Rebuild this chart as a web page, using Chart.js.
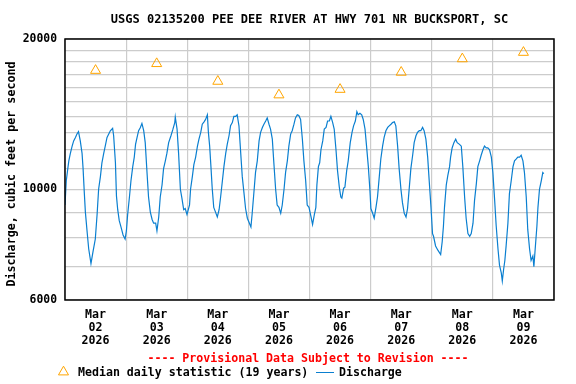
<!DOCTYPE html>
<html>
<head>
<meta charset="utf-8">
<script src="https://cdn.jsdelivr.net/npm/chart.js@4"></script>
<style>
  html, body { margin: 0; padding: 0; background: #fff; }
  canvas { display: block; }
</style>
</head>
<body>
<canvas id="flow" width="576" height="384"></canvas>
<script>
// hours since Mar 02 2026 00:00, discharge in ft3/s
const hours = [
  0.0, 0.5, 1.1, 1.5, 2.1, 2.8, 3.4, 4.1, 4.7, 5.3, 6.0, 6.7, 7.1, 7.6, 8.0, 8.7, 9.3, 10.2, 11.0, 11.9,
  12.6, 13.2, 13.9, 14.5, 15.2, 15.8, 16.5, 17.8, 18.7, 19.1, 19.8, 20.2, 20.7, 21.3, 22.0, 22.8, 23.6,
  24.1, 24.6, 25.3, 25.9, 26.6, 27.2, 27.7, 28.3, 28.9, 29.6, 30.2, 30.9, 31.5, 32.2, 32.8, 33.5, 34.2,
  34.8, 35.6, 36.1, 36.8, 37.4, 38.1, 38.7, 39.4, 40.0, 40.7, 41.6, 42.3, 43.1, 43.3, 44.0, 44.6, 45.3,
  45.9, 46.6, 47.2, 47.9, 48.9, 49.3, 50.0, 50.6, 51.3, 52.0, 52.6, 53.3, 53.9, 54.6, 55.2, 55.9, 56.3,
  56.8, 57.3, 57.8, 58.4, 59.1, 59.8, 60.5, 61.1, 61.8, 62.4, 63.1, 63.7, 64.4, 65.0, 65.7, 66.3, 67.0,
  67.6, 68.3, 69.0, 69.6, 70.3, 70.9, 71.6, 72.2, 73.0, 73.5, 74.2, 74.8, 75.5, 76.2, 76.8, 77.5, 78.1,
  78.8, 79.4, 80.1, 80.7, 81.4, 82.0, 82.7, 83.3, 84.0, 84.7, 85.3, 86.0, 86.6, 87.3, 87.9, 88.6, 89.2,
  89.9, 90.5, 91.2, 91.8, 92.5, 93.2, 93.8, 94.5, 95.1, 95.8, 96.6, 97.2, 97.9, 98.5, 98.9, 99.5, 100.0,
  100.5, 101.2, 101.8, 102.5, 103.1, 103.8, 104.4, 105.1, 105.7, 106.4, 107.0, 107.7, 108.3, 108.7,
  109.4, 109.9, 110.6, 111.2, 112.0, 112.7, 113.3, 114.0, 114.6, 115.1, 115.8, 116.5, 117.1, 117.8,
  118.4, 119.1, 119.7, 120.1, 120.8, 121.4, 122.1, 122.7, 123.4, 124.0, 124.7, 125.3, 126.0, 126.7,
  127.3, 128.0, 128.6, 129.3, 129.9, 130.6, 131.2, 131.9, 132.5, 133.2, 133.9, 134.5, 135.2, 135.8,
  136.5, 137.1, 137.8, 138.4, 139.1, 139.7, 140.4, 141.0, 141.7, 142.4, 143.0, 143.7, 144.3, 144.7,
  145.5, 146.4, 147.5, 148.1, 148.6, 149.0, 149.7, 150.3, 151.0, 151.4, 152.0, 152.7, 153.4, 154.0,
  154.9, 155.6, 156.2, 156.9, 157.5, 158.2, 158.9, 159.5, 160.2, 160.8, 161.5, 162.1, 162.8, 163.4,
  164.1, 164.7, 165.4, 166.0, 166.7, 167.4, 168.0, 168.7, 169.3, 170.0, 170.6, 171.3, 171.7, 172.2,
  172.7, 173.2, 173.9, 174.5, 175.2, 175.9, 176.5, 177.2, 177.8, 178.5, 179.1, 179.8, 180.4, 181.1,
  181.7, 182.4, 183.0, 183.7, 184.1, 184.7, 185.3, 185.7, 186.3, 187.0, 187.6, 188.0
];
const discharge = [
  9300, 10400, 11000, 11400, 11800, 12200, 12500, 12700, 12900, 13050, 12500, 11800, 11000, 9800, 9000, 8200, 7600, 7100, 7500, 7950,
  8900, 10000, 10600, 11300, 11800, 12200, 12700, 13100, 13250, 12800, 11300, 9700, 9100, 8650, 8400, 8100, 7950,
  8250, 8900, 9650, 10400, 11100, 11600, 12300, 12700, 13100, 13300, 13550, 13100, 12400, 10800, 9650, 9000, 8700,
  8550, 8550, 8250, 8800, 9650, 10200, 11000, 11400, 11800, 12400, 12800, 13150, 13600, 13950, 13200, 11800, 10000,
  9600, 9100, 9150, 8900, 9300, 10000, 10600, 11200, 11600, 12200, 12600, 13000, 13500, 13650, 13800, 14100, 13000,
  12200, 11100, 10050, 9200, 9000, 8800, 9100, 9650, 10400, 11100, 11800, 12300, 12800, 13400, 13600, 14000, 14000,
  14100, 13400, 11800, 10600, 9800, 9150, 8750, 8600, 8400, 8950, 9900, 10800, 11400, 12500, 13000, 13300, 13500,
  13700, 13900, 13500, 13200, 12600, 11300, 10000, 9300, 9200, 8950, 9300, 10000, 10800, 11400, 12200, 12900, 13100,
  13500, 13900, 14100, 14050, 13800, 12600, 11400, 10400, 9300, 9200, 8800, 8500, 8900, 9200, 10200, 11100, 11300,
  12000, 12500, 13200, 13300, 13700, 13700, 14000, 13600, 13200, 12000, 10900, 10100, 9650, 9600,
  10050, 10100, 10900, 11400, 12400, 13000, 13400, 13700, 14300, 14100, 14200, 14100, 13800, 13200,
  12200, 11100, 10000, 9150, 8950, 8750, 9200, 9650, 10600, 11500, 12200, 12700, 13100, 13300,
  13400, 13500, 13600, 13650, 13400, 12200, 11000, 10000, 9400, 8950, 8800, 9150, 10100, 11000,
  11700, 12400, 12800, 13000, 13100, 13100, 13300, 13100, 12600, 11600, 10400, 9200, 8150, 8050,
  7700, 7550, 7400, 7850, 8450, 9200, 10200, 10650, 11100, 11600, 12100, 12400, 12600, 12400,
  12300, 12200, 11100, 9650, 8750, 8150, 8050, 8150, 8550, 9500, 10250, 11100, 11400, 11700,
  12000, 12200, 12100, 12100, 12000, 11600, 10800, 9500, 8450, 7600, 7050, 6800, 6550, 6900,
  7200, 7700, 8550, 9800, 10400, 11100, 11400, 11500, 11600, 11600, 11700, 11400, 10800, 9650,
  8300, 7600, 7200, 7350, 7000, 7700, 8450, 9200, 10000, 10400, 10800, 10750
];

// median daily statistic, plotted at noon of each day
const medianHours = [12, 36, 60, 84, 108, 132, 156, 180];
const medianValues = [17300, 17850, 16450, 15450, 15850, 17150, 18250, 18800];

const month = 'Mar';
const year = '2026';
const dayLabels = ['02', '03', '04', '05', '06', '07', '08', '09'];
const xTicks = [0, 12, 24, 36, 48, 60, 72, 84, 96, 108, 120, 132, 144, 156, 168, 180, 192];
const yTicks = [6000, 7000, 8000, 9000, 10000, 11000, 12000, 13000, 14000, 15000, 16000, 17000, 18000, 19000, 20000];
const yLabels = [6000, 10000, 20000];

const MONO = '"DejaVu Sans Mono", "Liberation Mono", monospace';
const GRID = '#cccccc';
const BLUE = '#0a7fd0';
const ORANGE = '#ffa500';

const decor = {
  id: 'decor',
  afterDraw(chart) {
    const { ctx, chartArea: a } = chart;
    ctx.save();
    // plot frame
    ctx.strokeStyle = '#000';
    ctx.lineWidth = 1.5;
    ctx.strokeRect(a.left, a.top, a.right - a.left, a.bottom - a.top);

    ctx.fillStyle = '#000';
    ctx.textBaseline = 'middle';
    ctx.textAlign = 'center';
    ctx.font = 'bold 12px ' + MONO;
    ctx.fillText('USGS 02135200 PEE DEE RIVER AT HWY 701 NR BUCKSPORT, SC', (a.left + a.right) / 2, 20);

    // y axis title
    ctx.save();
    ctx.translate(12, 174);
    ctx.rotate(-Math.PI / 2);
    ctx.font = 'bold 11.7px ' + MONO;
    ctx.fillText('Discharge, cubic feet per second', 0, 0);
    ctx.restore();

    ctx.fillStyle = '#ff0000';
    ctx.font = 'bold 11.6px ' + MONO;
    ctx.fillText('---- Provisional Data Subject to Revision ----', 308, 359);

    // legend
    const ly = 372;
    ctx.strokeStyle = ORANGE;
    ctx.lineWidth = 1;
    const r = 5.8;
    ctx.beginPath();
    ctx.moveTo(63.5, ly - r);
    ctx.lineTo(63.5 + r * Math.sin(2 * Math.PI / 3), ly + r / 2);
    ctx.lineTo(63.5 - r * Math.sin(2 * Math.PI / 3), ly + r / 2);
    ctx.closePath();
    ctx.stroke();

    ctx.fillStyle = '#000';
    ctx.textAlign = 'left';
    ctx.fillText('Median daily statistic (19 years)', 78, ly + 1);
    ctx.strokeStyle = BLUE;
    ctx.beginPath();
    ctx.moveTo(316, ly + 0.5);
    ctx.lineTo(334, ly + 0.5);
    ctx.stroke();
    ctx.fillText('Discharge', 339, ly + 1);
    ctx.restore();
  }
};

new Chart(document.getElementById('flow'), {
  type: 'line',
  data: {
    datasets: [
      {
        label: 'Median daily statistic (19 years)',
        data: medianHours.map((h, i) => ({ x: h, y: medianValues[i] })),
        showLine: false,
        pointStyle: 'triangle',
        pointRadius: 5.8,
        pointBorderWidth: 1,
        pointBorderColor: ORANGE,
        pointBackgroundColor: 'rgba(0,0,0,0)'
      },
      {
        label: 'Discharge',
        data: hours.map((h, i) => ({ x: h, y: discharge[i] })),
        borderColor: BLUE,
        borderWidth: 1.2,
        pointRadius: 0,
        tension: 0,
        fill: false
      }
    ]
  },
  options: {
    responsive: false,
    animation: false,
    devicePixelRatio: 1,
    layout: { padding: { left: 0, top: 39, right: 22, bottom: 0 } },
    plugins: { legend: { display: false }, tooltip: { enabled: false } },
    scales: {
      x: {
        type: 'linear',
        min: 0,
        max: 192,
        afterBuildTicks: (s) => { s.ticks = xTicks.map(v => ({ value: v })); },
        afterFit: (s) => { s.height = 84; },
        border: { display: false },
        grid: {
          drawTicks: false,
          color: (c) => (c.tick && c.tick.value % 24 === 0) ? GRID : 'rgba(0,0,0,0)',
          lineWidth: 1.2
        },
        ticks: {
          autoSkip: false,
          maxRotation: 0,
          padding: 9,
          color: '#000',
          font: { family: MONO, size: 11.6, weight: 'bold', lineHeight: 1.1 },
          callback: (v) => v % 24 === 12 ? [month, dayLabels[Math.floor(v / 24)], year] : ''
        }
      },
      y: {
        type: 'logarithmic',
        min: 6000,
        max: 20000,
        afterBuildTicks: (s) => { s.ticks = yTicks.map(v => ({ value: v })); },
        afterFit: (s) => { s.width = 65; },
        border: { display: false },
        grid: { drawTicks: false, color: GRID, lineWidth: 1.2 },
        ticks: {
          autoSkip: false,
          padding: 8,
          color: '#000',
          font: { family: MONO, size: 11.4, weight: 'bold' },
          callback: (v) => yLabels.includes(v) ? String(v) : ''
        }
      }
    }
  },
  plugins: [decor]
});
</script>
</body>
</html>
